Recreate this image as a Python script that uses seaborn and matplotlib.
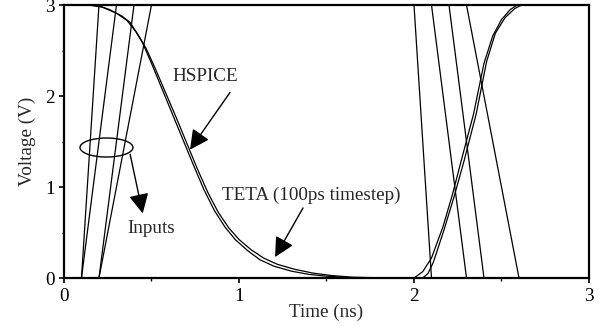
import numpy as np
import pandas as pd
import matplotlib
matplotlib.use("Agg")
import matplotlib.pyplot as plt
from matplotlib.patches import Ellipse
from matplotlib.ticker import MultipleLocator
import seaborn as sns

# ---- data ----
# input ramps (ns)
rise_start = [0.1, 0.1, 0.2, 0.2]
rise_end = [0.2, 0.3, 0.4, 0.5]
fall_start = [2.0, 2.1, 2.2, 2.3]
fall_end = [2.1, 2.3, 2.4, 2.6]
vdd = 3.0

hspice_t = [0.00, 0.14, 0.22, 0.30, 0.36, 0.41, 0.45, 0.50, 0.56, 0.62, 0.68, 0.74, 0.80,
            0.86, 0.92, 0.98, 1.05, 1.12, 1.20, 1.30, 1.40, 1.50, 1.62, 1.80, 2.00,
            2.05, 2.10, 2.165, 2.22, 2.27, 2.34, 2.40, 2.45, 2.50, 2.55, 2.59, 3.00]
hspice_v = [3.00, 3.00, 2.975, 2.91, 2.83, 2.71, 2.58, 2.36, 2.08, 1.80, 1.52, 1.24, 0.97,
            0.74, 0.56, 0.42, 0.30, 0.20, 0.13, 0.075, 0.04, 0.02, 0.005, 0.00, 0.00,
            0.07, 0.22, 0.56, 0.92, 1.29, 1.80, 2.36, 2.66, 2.84, 2.95, 3.00, 3.00]

teta_t = [0.00, 0.187, 0.26, 0.33, 0.377, 0.434, 0.47, 0.522, 0.582, 0.642, 0.702, 0.762,
          0.822, 0.882, 0.942, 1.002, 1.07, 1.14, 1.22, 1.32, 1.42, 1.525, 1.65, 1.85,
          2.05, 2.08, 2.11, 2.17, 2.23, 2.285, 2.355, 2.415, 2.465, 2.52, 2.575, 2.615, 3.00]
teta_v = [3.00, 3.00, 2.95, 2.88, 2.81, 2.64, 2.52, 2.30, 2.03, 1.76, 1.48, 1.20,
          0.94, 0.72, 0.55, 0.42, 0.31, 0.22, 0.15, 0.095, 0.055, 0.028, 0.009, 0.00,
          0.00, 0.05, 0.17, 0.52, 0.90, 1.28, 1.80, 2.38, 2.69, 2.86, 2.96, 3.00, 3.00]

# ---- build long table ----
rows = []
for i, (a, b, c, d) in enumerate(zip(rise_start, rise_end, fall_start, fall_end)):
    for t, v in zip([0.0, a, b, c, d, 3.0], [0.0, 0.0, vdd, vdd, 0.0, 0.0]):
        rows.append(dict(series=f"in{i}", t=t, v=v))
for t, v in zip(hspice_t, hspice_v):
    rows.append(dict(series="HSPICE", t=t, v=v))
for t, v in zip(teta_t, teta_v):
    rows.append(dict(series="TETA", t=t, v=v))
df = pd.DataFrame(rows)

sns.set_style("ticks")
plt.rcParams["font.family"] = ["Liberation Serif", "DejaVu Serif"]
FS = 13.8
plt.rcParams["font.size"] = FS

fig = plt.figure(figsize=(6.11, 3.27), dpi=100)
ax = fig.add_axes([0.1047, 0.1498, 0.8593, 0.8349])

sns.lineplot(data=df, x="t", y="v", units="series", estimator=None, sort=False,
             color="black", linewidth=0.9, ax=ax)

ax.set_xlim(0, 3)
ax.set_ylim(0, 3)
ax.xaxis.set_major_locator(MultipleLocator(1))
ax.yaxis.set_major_locator(MultipleLocator(1))
ax.xaxis.set_minor_locator(MultipleLocator(0.5))
ax.yaxis.set_minor_locator(MultipleLocator(0.5))
ax.tick_params(which="major", direction="out", length=3.5, width=1.2, colors="black",
               labelsize=FS)
ax.tick_params(which="minor", direction="out", length=1.8, width=1.0, colors="black")
ax.tick_params(axis="x", which="major", pad=4)
ax.tick_params(axis="y", which="major", pad=3)
for s in ax.spines.values():
    s.set_linewidth(1.6)
    s.set_color("black")
    s.set_visible(True)

ax.set_xlabel("Time (ns)", fontsize=FS, labelpad=-1)
ax.set_ylabel("Voltage (V)", fontsize=FS, labelpad=7)

# annotations
ax.add_patch(Ellipse((0.243, 1.434), 0.303, 0.209, fill=False, edgecolor="black", linewidth=1.0))
aprops = dict(arrowstyle="-|>,head_length=0.75,head_width=0.38", color="black", lw=1.0,
              mutation_scale=16, shrinkA=0, shrinkB=0)
ax.annotate("", xy=(0.45, 0.71), xytext=(0.378, 1.36), arrowprops=aprops)
ax.annotate("", xy=(0.72, 1.41), xytext=(0.949, 2.04), arrowprops=aprops)
ax.annotate("", xy=(1.206, 0.23), xytext=(1.366, 0.77), arrowprops=aprops)
ax.text(0.806, 2.21, "HSPICE", ha="center", va="center", fontsize=FS)
ax.text(1.411, 0.91, "TETA (100ps timestep)", ha="center", va="center", fontsize=FS)
ax.text(0.497, 0.54, "Inputs", ha="center", va="center", fontsize=FS)

fig.savefig("out.png", dpi=100)
